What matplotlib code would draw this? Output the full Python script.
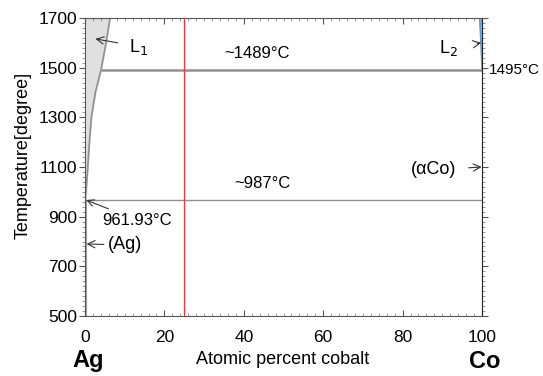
import matplotlib
matplotlib.use("Agg")
import matplotlib.pyplot as plt
from matplotlib.ticker import MultipleLocator, FixedLocator

plt.rcParams['font.family'] = ['Liberation Sans', 'DejaVu Sans']

# Liquidus on the Ag side (L1 boundary)
liq_T = [961.93, 1000, 1100, 1200, 1300, 1400, 1489, 1600, 1700]
liq_x = [0.0, 0.25, 0.7, 1.1, 1.6, 2.6, 4.0, 5.3, 6.3]
# L2 boundary near Co
l2_T = [1495, 1600, 1700]
l2_x = [100.0, 99.7, 99.4]
# Solvus of (Ag)
ag_T = [500, 961.93]
ag_x = [0.3, 0.3]

monotectic_T = 1489
eutectic_T = 967
red_x = 25
y_ticks = [500, 700, 900, 1100, 1300, 1500, 1700]
x_ticks = [0, 20, 40, 60, 80, 100]

fig = plt.figure(figsize=(5.43, 3.76), dpi=100)
ax = fig.add_axes([85/543, 1-316/376, (482-85)/543, (316-18)/376])
ax.set_xlim(0, 100)
ax.set_ylim(500, 1700)

ax.fill_betweenx(liq_T, 0, liq_x, color='#e0e0e0', zorder=1)
ax.plot(liq_x, liq_T, color='#909090', lw=1.2, zorder=2)
ax.fill_betweenx(l2_T, l2_x, 100, color='#7fb8e0', zorder=1)
ax.plot(l2_x, l2_T, color='#5a9ac8', lw=1, zorder=2)
ax.plot(ag_x, ag_T, color='#a0a0a0', lw=1.5, zorder=2)

ax.hlines(monotectic_T, liq_x[6], 100, color='#909090', lw=1.8, zorder=2)
ax.hlines(eutectic_T, 0, 100, color='#909090', lw=1.0, zorder=2)
ax.axvline(red_x, color='#ff3030', lw=0.9, zorder=3)

ax.xaxis.set_major_locator(FixedLocator(x_ticks))
ax.xaxis.set_minor_locator(MultipleLocator(2))
ax.yaxis.set_major_locator(FixedLocator(y_ticks))
ax.yaxis.set_minor_locator(MultipleLocator(20))
ax.tick_params(axis='both', which='major', labelsize=12.5, length=4, width=0.8, color='#555555', pad=1.5)
ax.tick_params(axis='both', which='minor', length=2, width=0.6, color='#888888')
ax.tick_params(axis='x', which='both', direction='in', top=True)
ax.tick_params(axis='x', which='major', pad=10)
ax.tick_params(axis='y', which='both', direction='out', right=True)
for s in ax.spines.values():
    s.set_color('#555555')
    s.set_linewidth(0.8)
ax.spines['right'].set_color('#222222')

fig.text(23/543, 1-155/376, 'Temperature[degree]', fontsize=13, rotation=90, ha='center', va='center')
fig.text(283/543, 1-359/376, 'Atomic percent cobalt', fontsize=13, ha='center', va='center')

fs = 12
ax.annotate('L$_1$', xy=(2.6, 1616), xytext=(11.0, 1585), fontsize=13, va='center', ha='left',
            arrowprops=dict(arrowstyle='->', color='#333333', lw=0.8, shrinkA=6, shrinkB=0))
ax.text(43.3, 1559, '~1489\u00b0C', fontsize=fs, ha='center', va='center')
ax.text(44.8, 1035, '~987\u00b0C', fontsize=fs, ha='center', va='center')
ax.annotate('961.93\u00b0C', xy=(0.3, 967), xytext=(4.3, 886), fontsize=fs, va='center', ha='left',
            arrowprops=dict(arrowstyle='->', color='#333333', lw=0.8, shrinkA=2, shrinkB=0))
ax.annotate('(Ag)', xy=(0.4, 790), xytext=(5.8, 786), fontsize=13, va='center', ha='left',
            arrowprops=dict(arrowstyle='->', color='#333333', lw=0.8, shrinkA=1, shrinkB=0))
ax.annotate('L$_2$', xy=(99.8, 1600), xytext=(94.0, 1578), fontsize=13, va='center', ha='right',
            arrowprops=dict(arrowstyle='->', color='#333333', lw=0.8, shrinkA=12, shrinkB=0))
ax.text(101.7, 1490, '1495\u00b0C', fontsize=11, ha='left', va='center', clip_on=False)
ax.annotate('(\u03b1Co)', xy=(99.9, 1100), xytext=(93.5, 1088), fontsize=13, va='center', ha='right',
            arrowprops=dict(arrowstyle='->', color='#333333', lw=0.8, shrinkA=7, shrinkB=0))

fig.text(88/543, 1-361/376, 'Ag', fontsize=17, fontweight='bold', ha='center', va='center')
fig.text(485/543, 1-361/376, 'Co', fontsize=17, fontweight='bold', ha='center', va='center')

fig.savefig('out.png', dpi=100)
